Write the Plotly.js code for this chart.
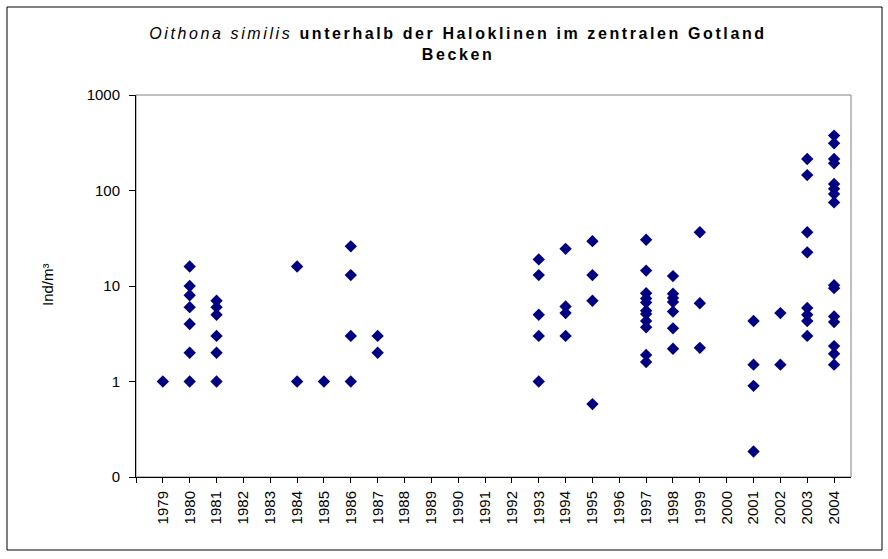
<!DOCTYPE html>
<html>
<head>
<meta charset="utf-8">
<script src="https://cdn.plot.ly/plotly-3.0.1.min.js"></script>
<style>
html,body{margin:0;padding:0;background:#fff;}
.gtitle{letter-spacing:2.6px;}
</style>
</head>
<body>
<div id="chart" style="width:888px;height:559px;"></div>
<script>
// Tick categories (years)
const yearLabels = ["1979","1980","1981","1982","1983","1984","1985","1986","1987","1988","1989","1990","1991","1992","1993","1994","1995","1996","1997","1998","1999","2000","2001","2002","2003","2004"];

const v1979 = [1];
const v1980 = [16, 10, 8, 6, 4, 2, 1];
const v1981 = [7, 6, 5, 3, 2, 1];
const v1984 = [16, 1];
const v1985 = [1];
const v1986 = [26, 13, 3, 1];
const v1987 = [3, 2];
const v1993 = [19, 13, 5, 3, 1];
const v1994 = [24.5, 6.1, 5.2, 3];
const v1995 = [29.5, 13, 7, 0.58];
const v1997 = [30.5, 14.5, 8.4, 7.4, 6.7, 5.5, 5.1, 4.3, 3.7, 1.9, 1.6];
const v1998 = [12.7, 8.3, 7.5, 6.8, 5.4, 3.6, 2.2];
const v1999 = [36.5, 6.6, 2.25];
const v2001 = [4.3, 1.5, 0.9, 0.185];
const v2002 = [5.2, 1.5];
const v2003 = [214, 145, 36.5, 22.5, 5.9, 5.0, 4.3, 3.0];
const v2004 = [376, 312, 214, 193, 117, 104, 92, 75, 10.2, 9.5, 4.8, 4.2, 2.35, 1.95, 1.5];

const yTickVals = [0.1, 1, 10, 100, 1000];
const yTickText = ["0", "1", "10", "100", "1000"];

const groups = [
  [1979, v1979], [1980, v1980], [1981, v1981], [1984, v1984], [1985, v1985],
  [1986, v1986], [1987, v1987], [1993, v1993], [1994, v1994], [1995, v1995],
  [1997, v1997], [1998, v1998], [1999, v1999], [2001, v2001], [2002, v2002],
  [2003, v2003], [2004, v2004]
];
const xs = [], ys = [];
groups.forEach(g => g[1].forEach(v => { xs.push(g[0]); ys.push(v); }));

const yearNums = yearLabels.map(Number);

const trace = {
  x: xs, y: ys, type: "scatter", mode: "markers",
  marker: {symbol: "diamond", size: 9.5, color: "#000080", line: {width: 0}},
  hoverinfo: "x+y", showlegend: false
};

const layout = {
  width: 888, height: 559,
  margin: {l: 136, r: 37, t: 95, b: 82, pad: 0},
  paper_bgcolor: "#ffffff", plot_bgcolor: "#ffffff",
  font: {family: "Liberation Sans, Arial, sans-serif", color: "#000", size: 15},
  title: {
    text: "<i>Oithona similis</i> <b>unterhalb der Haloklinen im zentralen Gotland</b><br><b>Becken</b>",
    font: {family: "Liberation Sans, Arial, sans-serif", size: 16, color: "#000"},
    x: 458/888, xanchor: "center", xref: "container",
    y: 1 - 39/559, yanchor: "top", yref: "container"
  },
  xaxis: {
    type: "linear",
    range: [1978, 2004.63],
    tickmode: "array",
    tickvals: [1978].concat(yearNums),
    ticktext: [""].concat(yearLabels),
    tickangle: -90,
    ticks: "outside", ticklen: 5, tickwidth: 1, tickcolor: "#000",
    ticklabelstandoff: 2,
    showline: true, linecolor: "#000", linewidth: 1,
    showgrid: false, zeroline: false,
    tickfont: {size: 15, color: "#000"}
  },
  yaxis: {
    type: "log",
    range: [-1, 3],
    tickmode: "array",
    tickvals: yTickVals, ticktext: yTickText,
    ticks: "outside", ticklen: 6, tickwidth: 1, tickcolor: "#000",
    ticklabelstandoff: 6,
    showline: true, linecolor: "#000", linewidth: 1,
    showgrid: false, zeroline: false,
    tickfont: {size: 15, color: "#000"}
  },
  shapes: [
    {type: "rect", xref: "paper", yref: "paper", x0: 0, x1: 1, y0: 0, y1: 1,
     line: {color: "#808080", width: 1}, layer: "below"},
    {type: "rect", xref: "paper", yref: "paper",
     x0: (7 - 136)/715, x1: (882 - 136)/715, y0: (477 - 550)/382, y1: (477 - 7)/382,
     line: {color: "#000", width: 1}, layer: "below"}
  ],
  annotations: [
    {text: "Ind/m³", xref: "paper", yref: "paper",
     x: (47 - 136)/715, y: (477 - 285)/382, xanchor: "center", yanchor: "middle",
     textangle: -90, showarrow: false,
     font: {family: "Liberation Sans, Arial, sans-serif", size: 15, color: "#000"}}
  ]
};

Plotly.newPlot("chart", [trace], layout, {displayModeBar: false, staticPlot: true});
</script>
</body>
</html>
